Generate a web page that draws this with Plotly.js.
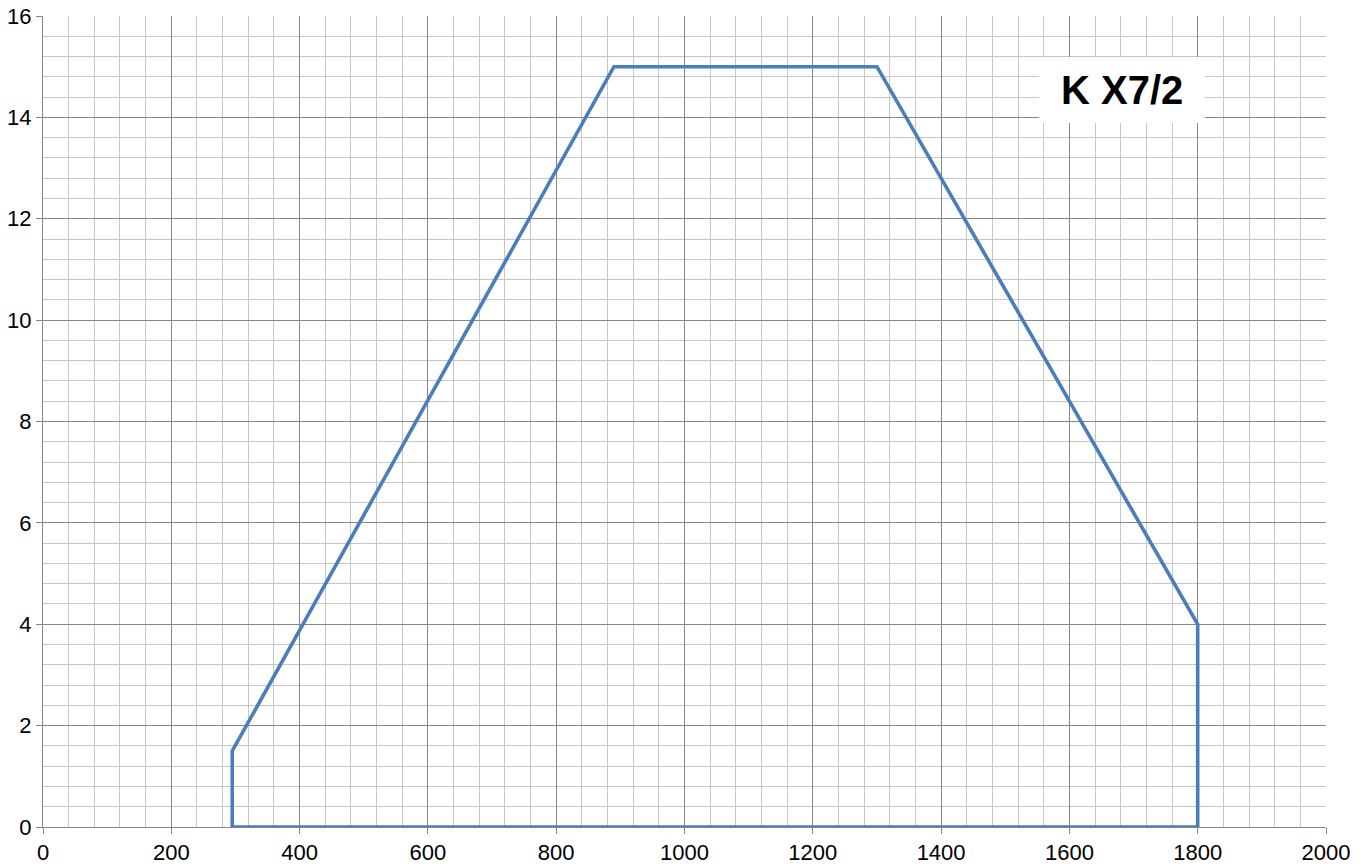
<!DOCTYPE html>
<html>
<head>
<meta charset="utf-8">
<script src="https://cdn.plot.ly/plotly-3.0.1.min.js"></script>
<style>html,body{margin:0;padding:0;background:#fff}#chart{width:1367px;height:867px}</style>
</head>
<body>
<div id="chart"></div>
<script>
// Envelope of operating range
const flowX = [295, 295, 890, 1300, 1800, 1800, 295];
const headY = [0, 1.5, 15, 15, 4, 0, 0];
const labelText = "K X7/2";
const xTickVals = [0, 200, 400, 600, 800, 1000, 1200, 1400, 1600, 1800, 2000];
const yTickVals = [0, 2, 4, 6, 8, 10, 12, 14, 16];

const trace = {
  x: flowX, y: headY, type: 'scatter', mode: 'lines',
  line: {color: '#4a7ebb', width: 3.6}, hoverinfo: 'x+y'
};

const tickFont = {family: 'Liberation Sans, Arial, sans-serif', size: 22, color: '#000'};

const layout = {
  width: 1367, height: 867,
  margin: {l: 43, r: 41, t: 16, b: 40},
  paper_bgcolor: '#fff', plot_bgcolor: '#fff',
  showlegend: false,
  xaxis: {
    range: [0, 2000], tickvals: xTickVals, ticktext: xTickVals.map(String),
    showgrid: true, gridcolor: '#868686', gridwidth: 1,
    minor: {dtick: 40, tick0: 0, showgrid: true, gridcolor: '#c6c6c6', gridwidth: 1},
    showline: true, linecolor: '#868686', linewidth: 1,
    ticks: 'outside', ticklen: 6, tickcolor: '#868686',
    zeroline: false, tickfont: tickFont, fixedrange: true
  },
  yaxis: {
    range: [0, 16], tickvals: yTickVals, ticktext: yTickVals.map(String),
    showgrid: true, gridcolor: '#868686', gridwidth: 1,
    minor: {dtick: 0.4, tick0: 0, showgrid: true, gridcolor: '#c6c6c6', gridwidth: 1},
    showline: true, linecolor: '#868686', linewidth: 1,
    ticks: 'outside', ticklen: 6, tickcolor: '#868686',
    zeroline: false, tickfont: tickFont, fixedrange: true
  },
  shapes: [{
    type: 'rect', xref: 'x', yref: 'y', x0: 1553, x1: 1811, y0: 13.89, y1: 15.19,
    fillcolor: '#fff', line: {width: 0}, layer: 'above'
  }],
  annotations: [{
    x: 1682, y: 14.54, xref: 'x', yref: 'y', text: '<b>' + labelText + '</b>',
    showarrow: false, font: {family: 'Liberation Sans, Arial, sans-serif', size: 40, color: '#000'},
    xanchor: 'center', yanchor: 'middle'
  }]
};

Plotly.newPlot('chart', [trace], layout, {displayModeBar: false, staticPlot: true});
</script>
</body>
</html>
